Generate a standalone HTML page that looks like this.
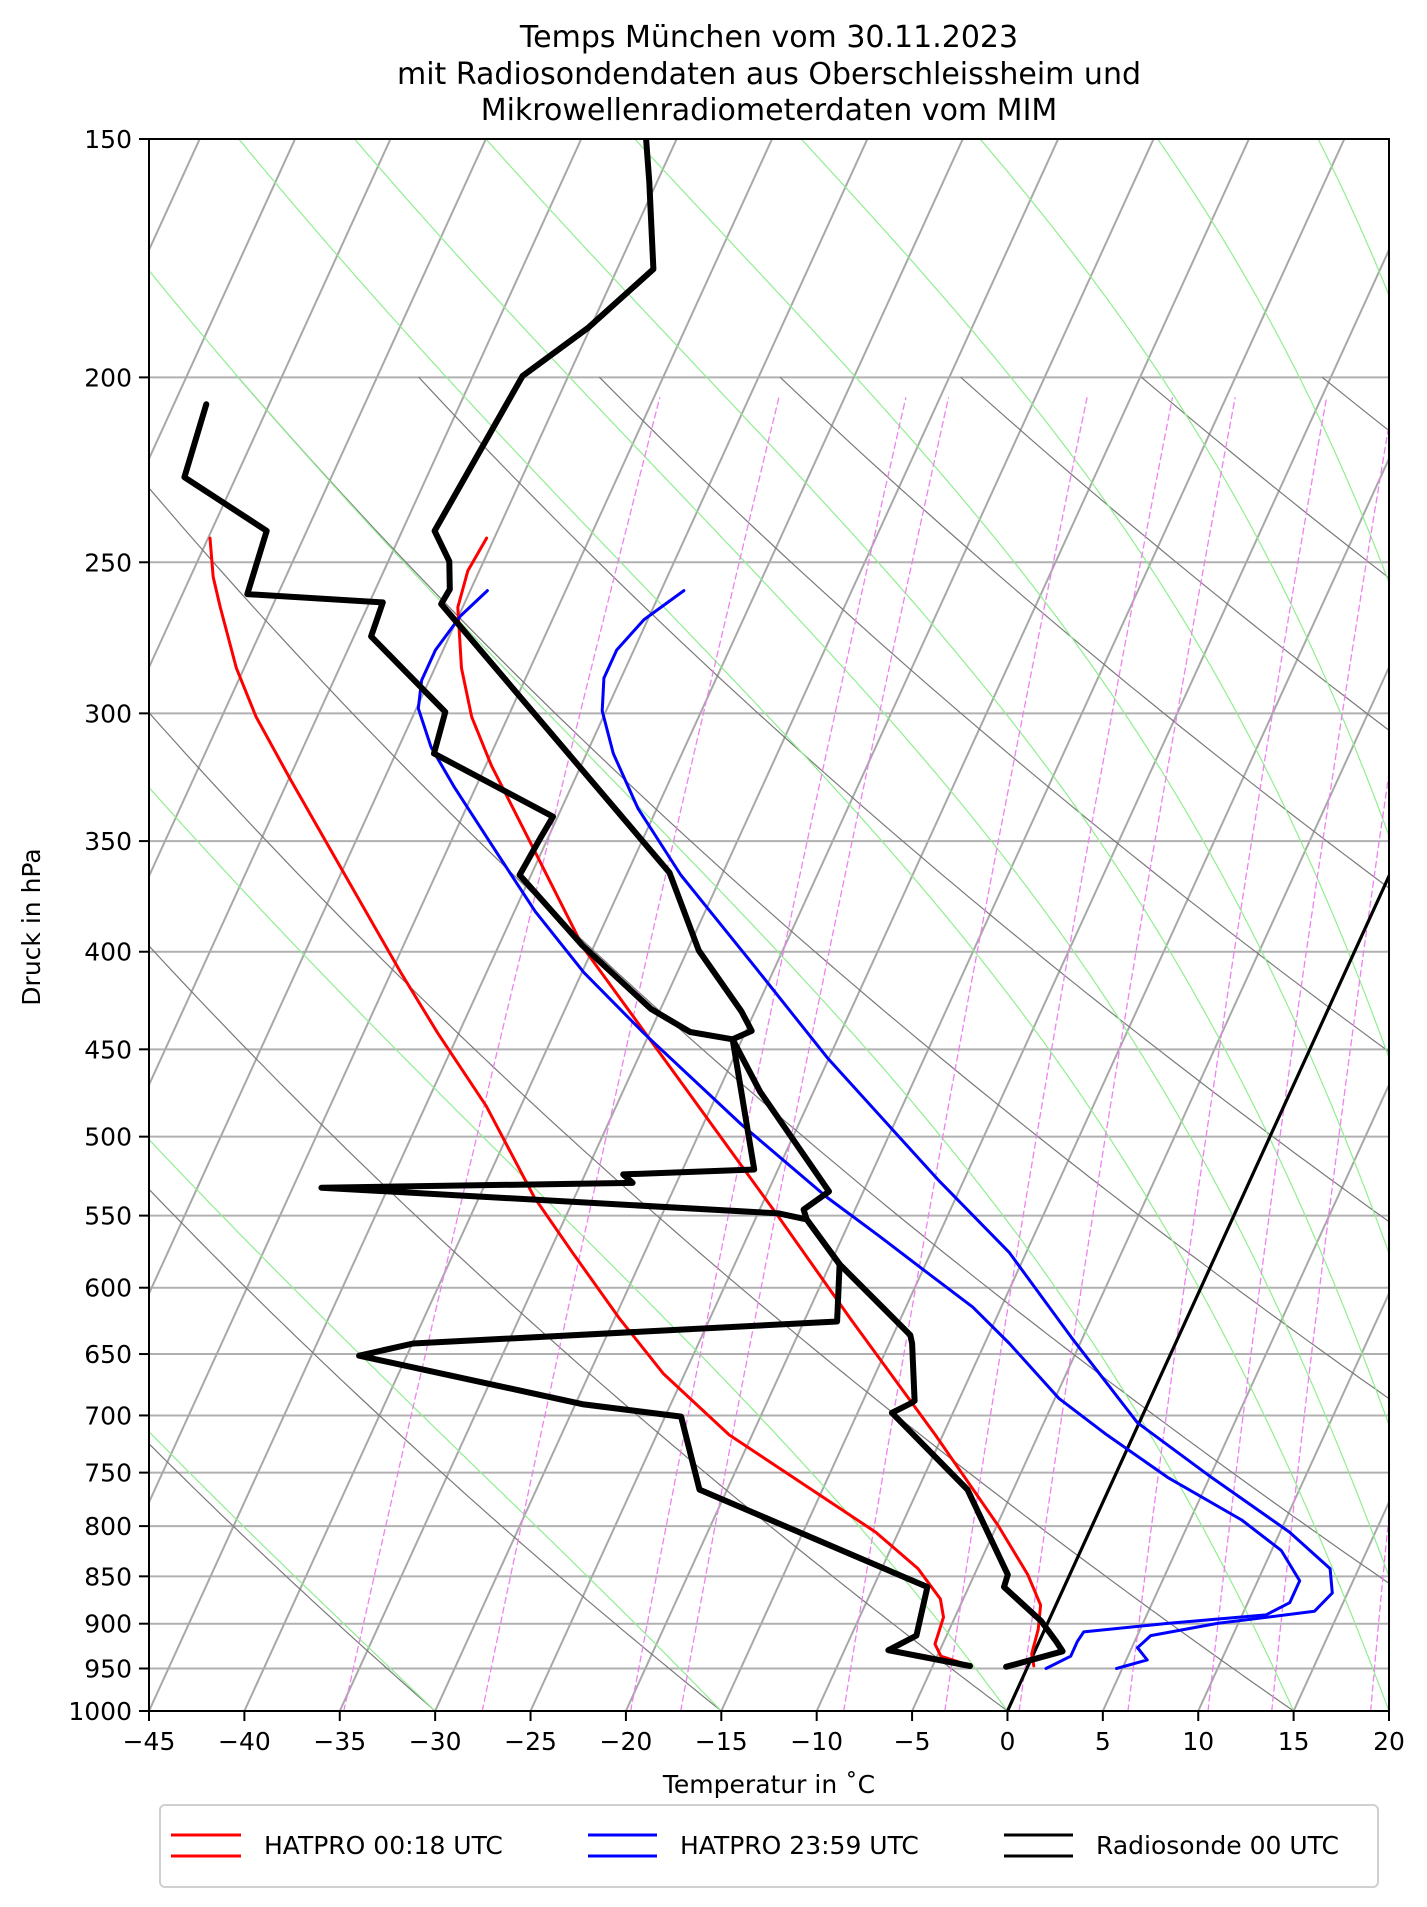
<!DOCTYPE html>
<html><head><meta charset="utf-8">
<style>
html,body{margin:0;padding:0;background:#fff;}
svg{display:block;font-family:"DejaVu Sans","Liberation Sans",sans-serif;}
</style></head>
<body>
<svg id="chart" width="1427" height="1907" viewBox="0 0 1427 1907" xmlns="http://www.w3.org/2000/svg">
<defs><clipPath id="plotclip"><rect x="149" y="139" width="1240" height="1572"/></clipPath></defs>
<g id="title" font-size="30" text-anchor="middle" fill="#000">
<text x="769" y="47">Temps München vom 30.11.2023</text>
<text x="769" y="84">mit Radiosondendaten aus Oberschleissheim und</text>
<text x="769" y="120">Mikrowellenradiometerdaten vom MIM</text>
</g>
<g id="bg" clip-path="url(#plotclip)"></g>
<g id="data" clip-path="url(#plotclip)"></g>
<rect x="149" y="139" width="1240" height="1572" fill="none" stroke="#000" stroke-width="2"/>
<g id="axes"></g>
<text x="769" y="1793" font-size="25" text-anchor="middle">Temperatur in  ˚C</text>
<text transform="translate(40,927) rotate(-90)" font-size="25" text-anchor="middle">Druck in hPa</text>
<g>
<rect x="160" y="1805" width="1218" height="82" rx="5" fill="#fff" stroke="#d0d0d0" stroke-width="2"/>
<g>
<line x1="171" y1="1835" x2="241" y2="1835" stroke="#f00" stroke-width="3"/>
<line x1="171" y1="1856" x2="241" y2="1856" stroke="#f00" stroke-width="3"/>
<text x="264" y="1854" font-size="25">HATPRO 00:18 UTC</text></g>
<g>
<line x1="588" y1="1835" x2="657" y2="1835" stroke="#00f" stroke-width="3"/>
<line x1="588" y1="1856" x2="657" y2="1856" stroke="#00f" stroke-width="3"/>
<text x="680" y="1854" font-size="25">HATPRO 23:59 UTC</text></g>
<g>
<line x1="1004" y1="1835" x2="1073" y2="1835" stroke="#000" stroke-width="3"/>
<line x1="1004" y1="1856" x2="1073" y2="1856" stroke="#000" stroke-width="3"/>
<text x="1096" y="1854" font-size="25">Radiosonde 00 UTC</text></g>
</g>
</svg>
<script>
// ---- data ----
const yTicks=[150,200,250,300,350,400,450,500,550,600,650,700,750,800,850,900,950,1000];
const xTicks=[-45,-40,-35,-30,-25,-20,-15,-10,-5,0,5,10,15,20];
const sondeTempP=[150,158,175.5,188.3,199.7,240.7,249.7,258.3,262.9,363.6,399.4,429.9,440.1,444.6,473.6,534.2,546,552.5,583.3,635.3,641.8,687.7,690,697.8,765.5,848.3,861,897,919.7,930.5,948];
const sondeTemp=[-56.6,-55.4,-53.1,-55.1,-57.4,-58.3,-56.8,-56.1,-56.2,-37.8,-34.4,-30.7,-29.7,-30.5,-27.8,-21.8,-22.7,-22.3,-19.5,-14.1,-13.8,-12.3,-12.45,-13.2,-7.4,-3.25,-3.15,-0.4,0.9,1.46,-1.13];
const sondeDewP=[206.6,225.6,240.7,259.8,262.4,273.4,299.5,314.9,339.8,349,364.6,397.1,428.6,440.7,444.6,520.2,523.3,528.7,531.8,548.5,552.5,583.3,625,641.8,651.3,690.7,701,765.5,861,913,929.2,947.1];
const sondeDew=[-73.3,-72.7,-67.1,-66.6,-59.3,-59.1,-53.4,-53.0,-45.25,-45.4,-45.6,-40.6,-35.5,-32.9,-30.5,-26.25,-33,-32.3,-48.5,-23.9,-22.3,-19.5,-18.26,-39.96,-42.5,-29.56,-24.16,-21.45,-7.17,-6.58,-7.7,-3.04];
const hat1P=[242.8,252.6,264,284.1,301.3,319.5,354.1,398.2,468,550.1,623.2,716.6,800,848.3,880,906.3,933.3,947];
const hat1T=[-55.4,-55.6,-55.25,-53.6,-51.9,-49.7,-45.4,-40.5,-32.2,-23.9,-17.6,-10.4,-4.9,-2.2,-0.8,-0.34,-0.1,0.3];
const hat1DewP=[242.8,254.5,264,284.1,301.3,324.2,370,410.1,441.3,482,538.1,574.9,623.2,665.8,716.6,759.9,805.8,842.1,873.6,893,922.4,936,947];
const hat1Td=[-69.9,-68.8,-67.7,-65.4,-63.2,-60.0,-54.1,-49.5,-46.1,-41.8,-37.1,-33.8,-29.7,-26.1,-21.2,-16.2,-11.2,-8.1,-6.2,-5.6,-5.4,-4.8,-3.0];
const hat2P=[258.7,267.9,277.9,287.5,299.1,314.9,336.4,364.6,407.1,454.5,526.4,574.9,637.1,706.1,754.3,805.8,842.1,867.3,886.6,899.7,913,926.5,940.2,950];
const hat2T=[-43.8,-45.2,-45.9,-45.9,-45.2,-43.6,-41,-37.15,-31.1,-25.1,-16.4,-10.9,-5.6,-0.1,5.1,10.5,13.5,14.2,13.7,8.9,5.7,5.3,6.1,4.7];
const hat2DewP=[258.7,266.7,277.9,288.3,298.2,312.5,328.1,351.5,381.1,410.1,441.3,492.7,538.1,562.3,587.7,614.2,641.8,685.7,716.6,754.3,794.1,823.8,854.6,877.5,890.5,899.7,909,919.7,936,950];
const hat2Td=[-54.1,-54.9,-55.4,-55.4,-54.9,-53.3,-51.1,-47.8,-43.9,-39.9,-35.3,-28,-21.75,-18.3,-14.9,-11.5,-8.7,-4.8,-1.4,2.8,7.7,10.5,12.2,12.2,11.25,6.3,2.1,2,2,1.0];
const adiabatStarts=[-120,-105,-90,-75,-60,-45,-30,-15,0,15,30,45,60,75,90,105,120,135,150,165,180];
const moistStarts=[-120,-105,-90,-75,-60,-45,-30,-15,0,15,20,22.5,25,27.5,30,32.5,35,37.5,40,42.5,45];
const mixingRatios=[0.0002,0.0004,0.0008,0.001,0.002,0.003,0.004,0.006,0.008,0.010,0.014];

// ---- axes ----
const L=149,R=1389,TOP=139,B=1711;
const kx=(R-L)/65, skew=0.457, ky=(B-TOP)/Math.log(1000/150);
function yOf(p){return B-Math.log(1000/p)*ky;}
function xOf(t,p){return L+(t+45)*kx+(B-yOf(p))*skew;}
const NS='http://www.w3.org/2000/svg';
const bg=document.getElementById('bg'),dg=document.getElementById('data'),ax=document.getElementById('axes');
function mk(tag,attrs,parent){const e=document.createElementNS(NS,tag);for(const k in attrs)e.setAttribute(k,attrs[k]);parent.appendChild(e);return e;}
function poly(ps,ts,attrs,parent,name){
  let d='';for(let i=0;i<ps.length;i++){d+=(i?'L':'M')+xOf(ts[i],ps[i]).toFixed(1)+' '+yOf(ps[i]).toFixed(1);}
  const e=mk('path',Object.assign({d:d,fill:'none','stroke-linejoin':'round','stroke-linecap':'round'},attrs),parent);
  
  
  return e;
}
yTicks.forEach(p=>{
  const g=mk('line',{x1:L,x2:R,y1:yOf(p),y2:yOf(p),stroke:'#b0b0b0','stroke-width':2},bg);
  
  
});
for(let t=-90;t<=20;t+=5){
  const g=mk('line',{x1:xOf(t,1000),y1:B,x2:xOf(t,150),y2:TOP,stroke:'#a8a8a8','stroke-width':2},bg);
  
  
}
const lev=[];for(let p=1000;p>=200;p-=5)lev.push(p);
adiabatStarts.forEach(t0=>{
  const th=t0+273.15;const ts=lev.map(p=>th*Math.pow(p/1000,0.2857)-273.15);
  poly(lev,ts,{stroke:'#7a7a7a','stroke-width':1.2},bg,'dry-adiabat');
});
function es(T){return 6.112*Math.exp(17.67*(T-273.15)/(T-29.65));}
moistStarts.forEach(t0=>{
  let T=t0+273.15;const ps=[],ts=[];let lp=Math.log(1000);const lpEnd=Math.log(148);
  const n=600,h=(lpEnd-lp)/n;
  function f(T,p){const e=es(T);const d=Math.max(p-e,1e-3);const rs=0.622*e/d;return (287.04*T+2.501e6*rs)/(1005.7+2.501e6*2.501e6*rs*0.622/(287.04*T*T));}
  for(let i=0;i<=n;i++){const p=Math.exp(lp);
    if(!isFinite(T))break;
    ps.push(p);ts.push(T-273.15);
    const k1=f(T,p),k2=f(T+h*k1/2,Math.exp(lp+h/2)),k3=f(T+h*k2/2,Math.exp(lp+h/2)),k4=f(T+h*k3,Math.exp(lp+h));
    T+=h*(k1+2*k2+2*k3+k4)/6;lp+=h;}
  if(ps.length>2) poly(ps,ts,{stroke:'#90ee90','stroke-width':1.2},bg,'moist-adiabat');
});
mixingRatios.forEach(w=>{
  const ps=[],ts=[];for(let p=1000;p>=205;p-=5){const e=w*p/(0.622+w);const x=Math.log(e/6.112);ps.push(p);ts.push(243.5*x/(17.67-x));}
  poly(ps,ts,{stroke:'#ee82ee','stroke-width':1.3,'stroke-dasharray':'6 4'},bg,'mixing-ratio-line');
});
const z=mk('line',{x1:xOf(0,1000),y1:B,x2:xOf(0,150),y2:TOP,stroke:'#000','stroke-width':3.2},bg);


poly(hat1P,hat1T,{stroke:'#f00','stroke-width':3},dg,'hatpro-0018-temperature');
poly(hat1DewP,hat1Td,{stroke:'#f00','stroke-width':3},dg,'hatpro-0018-dewpoint');
poly(hat2P,hat2T,{stroke:'#00f','stroke-width':3},dg,'hatpro-2359-temperature');
poly(hat2DewP,hat2Td,{stroke:'#00f','stroke-width':3},dg,'hatpro-2359-dewpoint');
poly(sondeTempP,sondeTemp,{stroke:'#000','stroke-width':6},dg,'radiosonde-temperature');
poly(sondeDewP,sondeDew,{stroke:'#000','stroke-width':6},dg,'radiosonde-dewpoint');
yTicks.forEach(p=>{
  const y=yOf(p);
  const tk=mk('line',{x1:L-10,x2:L,y1:y,y2:y,stroke:'#000','stroke-width':2},ax);
  
  
  const tx=mk('text',{x:L-17,y:y+9,'font-size':25,'text-anchor':'end'},ax);tx.textContent=p;
  
  
});
xTicks.forEach(t=>{
  const x=L+(t+45)*kx;
  const tk=mk('line',{x1:x,x2:x,y1:B,y2:B+10,stroke:'#000','stroke-width':2},ax);
  
  
  const tx=mk('text',{x:x,y:B+39,'font-size':25,'text-anchor':'middle'},ax);tx.textContent=(t<0?'\u2212'+(-t):String(t));
  
  
});
</script>
</body></html>
